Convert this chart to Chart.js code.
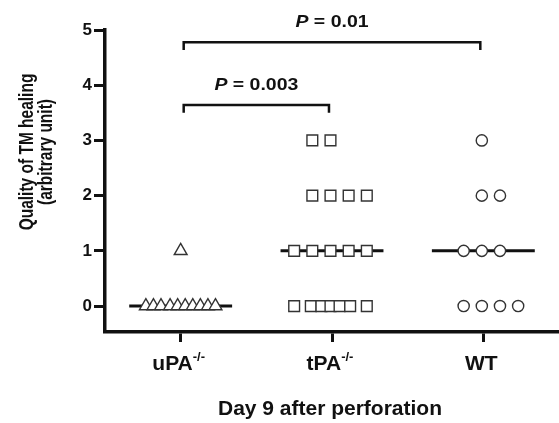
<!DOCTYPE html>
<html><head><meta charset="utf-8">
<script src="https://cdn.jsdelivr.net/npm/chart.js@4.4.1/dist/chart.umd.min.js"></script>
<style>html,body{margin:0;padding:0;background:#fff}#wrap{width:559px;height:423px;position:relative}</style>
</head><body><div id="wrap"><canvas id="c" width="559" height="423"></canvas></div>
<script>
// ---- data ----
const categories = ['uPA', 'tPA', 'WT'];
const categorySuperscripts = ['-/-', '-/-', ''];
const categoryX = [0.5, 1.5, 2.5];

const uPAx = [0.50, 0.27, 0.32, 0.37, 0.43, 0.48, 0.53, 0.58, 0.63, 0.68, 0.73];
const uPAy = [1, 0, 0, 0, 0, 0, 0, 0, 0, 0, 0];

const tPAx = [1.37, 1.49, 1.37, 1.49, 1.61, 1.73, 1.25, 1.37, 1.49, 1.61, 1.73, 1.25, 1.36, 1.43, 1.49, 1.55, 1.62, 1.73];
const tPAy = [3, 3, 2, 2, 2, 2, 1, 1, 1, 1, 1, 0, 0, 0, 0, 0, 0, 0];

const WTx = [2.49, 2.49, 2.61, 2.37, 2.49, 2.61, 2.37, 2.49, 2.61, 2.73];
const WTy = [3, 2, 2, 1, 1, 1, 0, 0, 0, 0];

const medians = [0, 1, 1];
const yTickValues = [0, 1, 2, 3, 4, 5];

const comparisons = [[0, 1], [0, 2]];
const pValues = ['0.003', '0.01'];
const bracketLevels = [3.64, 4.78];

const xTitle = 'Day 9 after perforation';
const yTitleLines = ['Quality of TM healing', '(arbitrary unit)'];

// ---- chart ----
const FAMILY = '"Liberation Sans", Arial, Helvetica, sans-serif';
const INK = '#111';
const pts = (xs, ys) => xs.map((x, i) => ({ x, y: ys[i] }));

const pointBase = { showLine: false, borderColor: '#333', backgroundColor: '#fff', pointBorderWidth: 1.4, pointHoverRadius: 0 };

const datasets = [
  Object.assign({ label: 'uPA', data: pts(uPAx, uPAy), pointStyle: 'triangle', pointRadius: 7.4 }, pointBase),
  Object.assign({ label: 'tPA', data: pts(tPAx, tPAy), pointStyle: 'rect', pointRadius: 7.6 }, pointBase),
  Object.assign({ label: 'WT', data: pts(WTx, WTy), pointStyle: 'circle', pointRadius: 5.6 }, pointBase)
];
medians.forEach((m, i) => {
  datasets.push({
    label: 'median ' + categories[i],
    data: [{ x: categoryX[i] - 0.34, y: m }, { x: categoryX[i] + 0.34, y: m }],
    showLine: true, pointRadius: 0, borderColor: INK, borderWidth: 3, clip: false
  });
});
comparisons.forEach((c, i) => {
  const a = categoryX[c[0]] + 0.02, b = categoryX[c[1]] - 0.02, lv = bracketLevels[i];
  datasets.push({
    label: 'bracket ' + i,
    data: [{ x: a, y: lv - 0.14 }, { x: a, y: lv }, { x: b, y: lv }, { x: b, y: lv - 0.14 }],
    showLine: true, pointRadius: 0, borderColor: INK, borderWidth: 2.5, clip: false,
    borderJoinStyle: 'miter', borderCapStyle: 'butt'
  });
});

const annotate = {
  id: 'annotate',
  afterDraw(chart) {
    const { ctx, scales: { x, y } } = chart;
    ctx.save();
    ctx.fillStyle = INK;
    ctx.textBaseline = 'alphabetic';
    // category labels with superscripts
    categories.forEach((c, i) => {
      const px = x.getPixelForValue(categoryX[i]);
      const sup = categorySuperscripts[i];
      ctx.font = 'bold 21px ' + FAMILY;
      const w1 = ctx.measureText(c).width;
      ctx.font = 'bold 13px ' + FAMILY;
      const w2 = sup ? ctx.measureText(sup).width : 0;
      const start = px - (w1 + w2) / 2 - 2;
      const base = y.bottom + 38;
      ctx.textAlign = 'left';
      ctx.font = 'bold 21px ' + FAMILY;
      ctx.fillText(c, start, base);
      if (sup) {
        ctx.font = 'bold 13px ' + FAMILY;
        ctx.fillText(sup, start + w1, base - 9);
      }
    });
    // x title
    ctx.textAlign = 'center';
    ctx.font = 'bold 21px ' + FAMILY;
    ctx.fillText(xTitle, (x.left + x.right) / 2 - 2, y.bottom + 83);
    // y title
    ctx.save();
    ctx.translate(0, y.top + 122);
    ctx.rotate(-Math.PI / 2);
    ctx.scale(1, 1.25);
    ctx.font = 'bold 15.5px ' + FAMILY;
    ctx.textAlign = 'center';
    ctx.fillText(yTitleLines[0], 0, 26);
    ctx.fillText(yTitleLines[1], 0, 41.5);
    ctx.restore();
    // P values
    comparisons.forEach((c, i) => {
      const a = x.getPixelForValue(categoryX[c[0]] + 0.02);
      const b = x.getPixelForValue(categoryX[c[1]] - 0.02);
      const mid = (a + b) / 2;
      const base = y.getPixelForValue(bracketLevels[i]) - 15;
      const rest = ' = ' + pValues[i];
      ctx.save();
      ctx.translate(mid, base);
      ctx.scale(1.18, 1);
      ctx.textAlign = 'left';
      ctx.font = 'italic bold 16.5px ' + FAMILY;
      const wP = ctx.measureText('P').width;
      ctx.font = 'bold 16.5px ' + FAMILY;
      const wR = ctx.measureText(rest).width;
      const s = -(wP + wR) / 2;
      ctx.font = 'italic bold 16.5px ' + FAMILY;
      ctx.fillText('P', s, 0);
      ctx.font = 'bold 16.5px ' + FAMILY;
      ctx.fillText(rest, s + wP, 0);
      ctx.restore();
    });
    ctx.restore();
  }
};

new Chart(document.getElementById('c'), {
  type: 'scatter',
  data: { datasets },
  options: {
    responsive: false,
    animation: false,
    devicePixelRatio: 1,
    events: [],
    layout: { autoPadding: false, padding: { top: 30, left: 0, right: 0, bottom: 0 } },
    plugins: { legend: { display: false }, tooltip: { enabled: false } },
    scales: {
      x: {
        type: 'linear', min: 0, max: 3,
        afterBuildTicks: s => { s.ticks = categoryX.map(v => ({ value: v })); },
        afterFit: s => { s.height = 91; },
        ticks: { display: false },
        grid: { display: true, drawOnChartArea: false, drawTicks: true, tickLength: 10, tickWidth: 3, tickColor: INK },
        border: { display: true, color: INK, width: 3.5 }
      },
      y: {
        type: 'linear', min: -0.47, max: 5,
        afterBuildTicks: s => { s.ticks = yTickValues.map(v => ({ value: v })); },
        afterFit: s => { s.width = 105; },
        ticks: { color: INK, padding: 2, font: { family: FAMILY, size: 17, weight: 'bold' } },
        grid: { display: true, drawOnChartArea: false, drawTicks: true, tickLength: 11, tickWidth: 3, tickColor: INK },
        border: { display: true, color: INK, width: 3.5 }
      }
    }
  },
  plugins: [annotate]
});
</script>
</body></html>
